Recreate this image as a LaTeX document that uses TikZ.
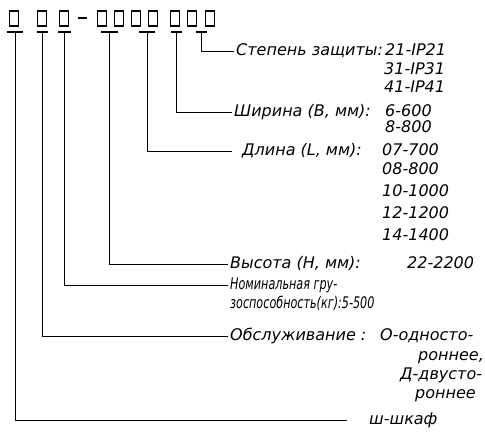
\documentclass[tikz,border=0pt]{standalone}
\usepackage{fontspec}
\setmainfont{DejaVu Sans}
\usetikzlibrary{positioning}

\tikzset{
  cell/.style={draw,line width=1.2pt,minimum width=9pt,minimum height=15pt,inner sep=0pt},
  lbl/.style={font=\itshape\fontsize{16}{18}\selectfont,anchor=west,inner xsep=2pt,inner ysep=0pt,
    text height=11.5pt,text depth=3.5pt},
  lead/.style={line width=0.8pt}
}

\begin{document}
\begin{tikzpicture}[x=1pt,y=-1pt]
  \useasboundingbox (0,0) rectangle (485,432);
  \foreach \n/\x in {1/14,2/42,3/64,4/102,5/119,6/136,7/153,8/175,9/192,10/210}
    \node[cell] (b\n) at (\x,18.5) {};
  \draw[line width=1.2pt] (78,18) -- (87,18);
  \foreach \t/\a/\b in {t1/7/23,t2/37/48,t3/58/71,t4/101/118,t5/139/155,t6/171/182,t7/196/207} {
    \draw[line width=1.2pt] (\a,32) -- (\b,32);
    \coordinate (\t) at ({(\a+\b)/2},32);
  }

  \node[lbl] (zasch) at (234,51) {Степень защиты:};
  \node[lbl] (ip21) at (383,51) {21-IP21};
  \node[lbl] (ip31) at (382,70) {31-IP31};
  \node[lbl] (ip41) at (382,88) {41-IP41};

  \node[lbl] (shir) at (232,112) {Ширина (В, мм):};
  \node[lbl] (w6) at (383,112) {6-600};
  \node[lbl] (w8) at (383,128) {8-800};

  \node[lbl] (dlin) at (240,151) {Длина (L, мм):};
  \node[lbl] (l07) at (380,151) {07-700};
  \node[lbl] (l08) at (380,170) {08-800};
  \node[lbl] (l10) at (380,192) {10-1000};
  \node[lbl] (l12) at (380,214) {12-1200};
  \node[lbl] (l14) at (380,236) {14-1400};

  \node[lbl] (vys) at (228,264) {Высота (Н, мм):};
  \node[lbl] (h22) at (405,264) {22-2200};

  \node[lbl] (gruz) at (228,285) {\scalebox{0.7}[1]{Номинальная гру-}};
  \node[lbl] (gruz2) at (228,304) {\scalebox{0.7}[1]{зоспособность(кг):5-500}};

  \node[lbl] (obsl) at (228,336) {Обслуживание :};
  \node[lbl] (odn) at (378,336) {О-односто-};
  \node[lbl] (odn2) at (416,356) {роннее,};
  \node[lbl] (dvu) at (398,375) {Д-двусто-};
  \node[lbl] (dvu2) at (413,394) {роннее};

  \node[lbl] (shk) at (367,420) {ш-шкаф};

  \draw[lead] (t7) |- (zasch.west);
  \draw[lead] (t6) |- (shir.west);
  \draw[lead] (t5) |- ([xshift=-8pt]dlin.west);
  \draw[lead] (t4) |- (vys.west);
  \draw[lead] (t3) |- (gruz.west);
  \draw[lead] (t2) |- (obsl.west);
  \draw[lead] (t1) |- ([xshift=-20pt]shk.west);
\end{tikzpicture}
\end{document}
